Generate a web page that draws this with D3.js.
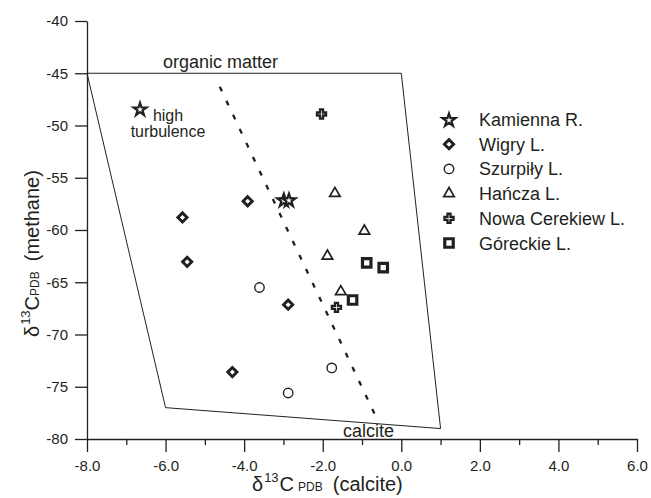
<!DOCTYPE html>
<html>
<head>
<meta charset="utf-8">
<script src="https://cdn.jsdelivr.net/npm/d3@7"></script>
<style>
  body { margin: 0; background: #fff; }
  svg { display: block; }
  text { font-family: "Liberation Sans", Arial, sans-serif; fill: #231f20; }
</style>
</head>
<body>
<svg id="chart" width="651" height="498"></svg>
<script>
// Sample groups (legend order)
const groups = ["Kamienna R.", "Wigry L.", "Szurpiły L.", "Hańcza L.", "Nowa Cerekiew L.", "Góreckie L."];

// δ13C calcite (x) and δ13C methane (y), per group
const kamiennaX = [-6.65, -2.99, -2.86];
const kamiennaY = [-48.4, -57.1, -57.1];
const wigryX = [-3.91, -5.57, -5.45, -2.88, -4.30];
const wigryY = [-57.25, -58.8, -63.05, -67.15, -73.6];
const szurpilyX = [-3.61, -1.77, -2.88];
const szurpilyY = [-65.5, -73.2, -75.6];
const hanczaX = [-1.69, -0.94, -1.88, -1.54];
const hanczaY = [-56.5, -60.1, -62.5, -65.9];
const nowaX = [-2.03, -1.65];
const nowaY = [-48.9, -67.4];
const goreckieX = [-0.88, -0.46, -1.24];
const goreckieY = [-63.15, -63.6, -66.7];

// Field boundary (polygon) and organic matter – calcite divide
const fieldX = [-8, 0, 1, -6];
const fieldY = [-45, -45, -79, -77];
const divideX = [-4.62, -0.63];
const divideY = [-46.3, -78.0];

// Axis ticks
const xMajorTicks = [-8, -6, -4, -2, 0, 2, 4, 6];
const xMinorTicks = [-7, -5, -3, -1, 1, 3, 5];
const yTicks = [-40, -45, -50, -55, -60, -65, -70, -75, -80];

const ink = "#231f20";
const svg = d3.select("#chart");

const x = d3.scaleLinear().domain([-8, 6]).range([87, 637]);
const y = d3.scaleLinear().domain([-80, -40]).range([439, 21]);

// Field polygon
svg.append("path")
  .attr("d", d3.line()(fieldX.map((v, i) => [x(v), y(fieldY[i])])) + "Z")
  .attr("fill", "none").attr("stroke", ink).attr("stroke-width", 1);

// Dashed divide
svg.append("line")
  .attr("x1", x(divideX[0])).attr("y1", y(divideY[0]))
  .attr("x2", x(divideX[1])).attr("y2", y(divideY[1]))
  .attr("stroke", ink).attr("stroke-width", 2.3)
  .attr("stroke-dasharray", "5,10.5");

// Axes
const yAxis = svg.append("g").attr("transform", `translate(${x(-8)},0)`)
  .call(d3.axisLeft(y).tickValues(yTicks).tickSize(12).tickSizeOuter(0).tickPadding(7)
    .tickFormat(d => String(d)));
const xAxis = svg.append("g").attr("transform", `translate(0,${y(-80)})`)
  .call(d3.axisBottom(x).tickValues(xMajorTicks).tickSize(13).tickSizeOuter(0).tickPadding(8)
    .tickFormat(d => d.toFixed(1)));
const xMinor = svg.append("g").attr("transform", `translate(0,${y(-80)})`)
  .call(d3.axisBottom(x).tickValues(xMinorTicks).tickSize(6).tickSizeOuter(0).tickFormat(""));
xMinor.select(".domain").remove();
[yAxis, xAxis, xMinor].forEach(g => {
  g.selectAll("path, line").attr("stroke", ink).attr("stroke-width", 1.3);
  g.selectAll("text").attr("font-size", 15)
    .attr("font-family", "\"Liberation Sans\", Arial, sans-serif").attr("fill", ink);
});

// Marker shapes
const symStar = d3.symbol().type(d3.symbolStar).size(52)();
const symDiamond = "M0,-4.6L4.6,0L0,4.6L-4.6,0Z";
const symCircle = d3.symbol().type(d3.symbolCircle).size(70)();
const symTriangle = d3.symbol().type(d3.symbolTriangle).size(48)();
const symCross = d3.symbol().type(d3.symbolCross).size(46)();
const symSquare = d3.symbol().type(d3.symbolSquare).size(72)();

const styles = [
  { d: symStar, sw: 2.2, dy: 0.8 },
  { d: symDiamond, sw: 2.9, dy: 0 },
  { d: symCircle, sw: 1.4, dy: 0 },
  { d: symTriangle, sw: 1.7, dy: 0 },
  { d: symCross, sw: 2.3, dy: 0 },
  { d: symSquare, sw: 3.2, dy: 0 }
];

const seriesX = [kamiennaX, wigryX, szurpilyX, hanczaX, nowaX, goreckieX];
const seriesY = [kamiennaY, wigryY, szurpilyY, hanczaY, nowaY, goreckieY];

function drawMarker(g, i, cx, cy) {
  g.append("path")
    .attr("d", styles[i].d)
    .attr("transform", `translate(${cx},${cy + styles[i].dy})`)
    .attr("fill", "#fff").attr("stroke", ink)
    .attr("stroke-width", styles[i].sw).attr("stroke-linejoin", "miter");
}

const marks = svg.append("g");
seriesX.forEach((xs, i) => {
  xs.forEach((v, j) => drawMarker(marks, i, x(v), y(seriesY[i][j])));
});

// Annotations
svg.append("text").attr("x", 163).attr("y", 68).attr("font-size", 18).text("organic matter");
svg.append("text").attr("x", 343).attr("y", 437).attr("font-size", 18).text("calcite");
svg.append("text").attr("x", 168).attr("y", 121).attr("font-size", 16)
  .attr("text-anchor", "middle").text("high");
svg.append("text").attr("x", 168).attr("y", 137).attr("font-size", 16)
  .attr("text-anchor", "middle").text("turbulence");

// Legend
const legend = svg.append("g");
groups.forEach((name, i) => {
  const ly = 119.5 + i * 24.7;
  drawMarker(legend, i, 449, ly);
  legend.append("text").attr("x", 479).attr("y", ly + 6.5).attr("font-size", 18).text(name);
});

// Axis titles
const xt = svg.append("text").attr("x", 252).attr("y", 491).attr("font-size", 20);
xt.append("tspan").text("δ");
xt.append("tspan").attr("font-size", 13).attr("dy", -9).attr("dx", 1).text("13");
xt.append("tspan").attr("dy", 9).attr("dx", 1).text("C");
xt.append("tspan").attr("font-size", 12).attr("dx", 4).text("PDB");
xt.append("tspan").attr("dx", 10).text("(calcite)");

const yt = svg.append("text").attr("transform", "translate(38.5,337) rotate(-90)").attr("font-size", 20);
yt.append("tspan").text("δ");
yt.append("tspan").attr("font-size", 13).attr("dy", -9).attr("dx", 1).text("13");
yt.append("tspan").attr("dy", 9).attr("dx", 0).text("C");
yt.append("tspan").attr("font-size", 12).attr("dx", 0).text("PDB");
yt.append("tspan").attr("dx", 10).text("(methane)");
</script>
</body>
</html>
